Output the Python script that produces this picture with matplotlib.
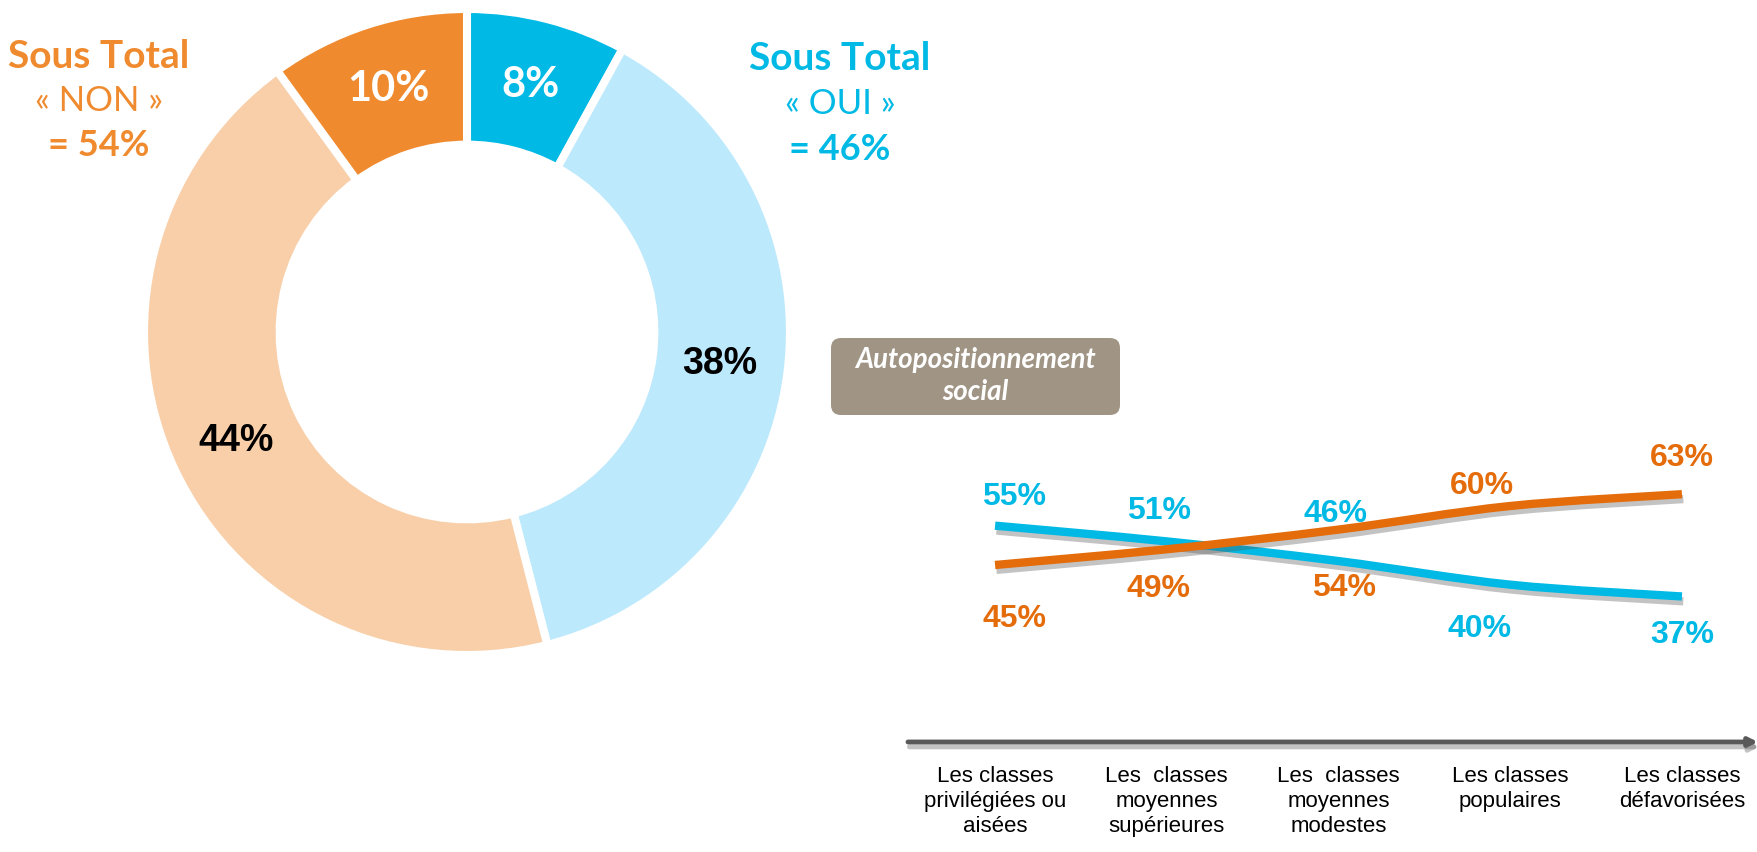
import numpy as np
import matplotlib
matplotlib.use('Agg')
import matplotlib.pyplot as plt
import matplotlib.patheffects as pe
from matplotlib.patches import FancyBboxPatch, PathPatch
from matplotlib.path import Path

# donut : part of "oui" / "non" answers (clockwise from the top)
parts = [8, 38, 44, 10]
part_labels = ['8%', '38%', '44%', '10%']
part_colors = ['#00B9E4', '#BDE9FC', '#F8CFA9', '#F08A2E']
part_text_colors = ['white', 'black', 'black', 'white']
total_oui = 46
total_non = 54

# line chart : self-positioning
classes = ['Les classes\nprivilégiées ou\naisées',
           'Les  classes\nmoyennes\nsupérieures',
           'Les  classes\nmoyennes\nmodestes',
           'Les classes\npopulaires',
           'Les classes\ndéfavorisées']
oui = [55, 51, 46, 40, 37]
non = [45, 49, 54, 60, 63]

# where the value labels sit, in pixels from their point
oui_label_offsets = [(19, 29), (-8, 30), (-3, 47), (-31, -44), (0, -39)]
non_label_offsets = [(19, -54), (-8, -40), (6, -58), (-28, 20), (0, 36)]

BLUE = '#00B9E4'
ORANGE = '#F08A2E'
LINE_ORANGE = '#E46C0A'

W, H = 1758, 852
fig = plt.figure(figsize=(W / 100, H / 100), dpi=100)
fig.patch.set_facecolor('white')


def px_axes(x0, y0, x1, y1):
    # box given in pixels, origin top-left
    return fig.add_axes([x0 / W, 1 - y1 / H, (x1 - x0) / W, (y1 - y0) / H])


def px_text(x, y, s, **kw):
    fig.text(x / W, 1 - y / H, s, ha='center', va='center', **kw)


# ---- donut ----
cx, cy, r_px, half = 467, 332, 323, 330
ax = px_axes(cx - half, cy - half, cx + half, cy + half)
wedges, _ = ax.pie(parts, colors=part_colors, startangle=90, counterclock=False,
                   radius=1, wedgeprops=dict(width=0.42, edgecolor='white', linewidth=5.8))
lim = half / r_px
ax.set_xlim(-lim, lim)
ax.set_ylim(-lim, lim)
ax.axis('off')

start = 90
for val, lab, col in zip(parts, part_labels, part_text_colors):
    mid = np.deg2rad(start - val * 3.6 / 2)
    if col == 'white':
        kw = dict(fontsize=30, family='Lato')
    else:
        kw = dict(fontsize=27, family='Liberation Sans')
    ax.text(0.79 * np.cos(mid), 0.79 * np.sin(mid), lab, ha='center', va='center',
            color=col, fontweight='bold', **kw)
    start -= val * 3.6

px_text(99, 56, 'Sous Total', color=ORANGE, fontsize=28, fontweight='bold', family='Lato')
px_text(99, 101, '« NON »', color=ORANGE, fontsize=25, fontweight='normal', family='Lato')
px_text(99, 146, f'= {total_non}%', color=ORANGE, fontsize=26, fontweight='bold', family='Lato')

px_text(840, 58, 'Sous Total', color=BLUE, fontsize=28, fontweight='bold', family='Lato')
px_text(840, 104, '« OUI »', color=BLUE, fontsize=25, fontweight='normal', family='Lato')
px_text(840, 150, f'= {total_oui}%', color=BLUE, fontsize=26, fontweight='bold', family='Lato')

# ---- badge ----
badge = FancyBboxPatch((831 / 100, (H - 415) / 100), 289 / 100, 77 / 100,
                       boxstyle='round,pad=0,rounding_size=0.1',
                       transform=fig.dpi_scale_trans, fc='#A09585', ec='none')
fig.add_artist(badge)
px_text(975, 376, 'Autopositionnement\nsocial', color='white', fontsize=20,
        fontweight='bold', style='italic', family='Lato', linespacing=1.3)

# ---- line chart ----
lx = px_axes(908, 447, 1758, 742)
lx.set_xlim(-0.507, 4.443)
lx.set_ylim(0, 75)
for s in lx.spines.values():
    s.set_visible(False)
lx.set_yticks([])
lx.set_xticks(range(len(classes)))
lx.set_xticklabels(classes, fontsize=16, linespacing=1.25, family='Liberation Sans')
lx.tick_params(axis='x', length=0, pad=17)
lx.patch.set_alpha(0)


def smooth(xs, ys, t=1 / 6):
    pts = np.column_stack([xs, ys]).astype(float)
    n = len(pts)
    verts, codes = [pts[0]], [Path.MOVETO]
    for i in range(n - 1):
        p0 = pts[i - 1] if i > 0 else pts[i]
        p1, p2 = pts[i], pts[i + 1]
        p3 = pts[i + 2] if i + 2 < n else pts[i + 1]
        verts += [p1 + (p2 - p0) * t, p2 - (p3 - p1) * t, p2]
        codes += [Path.CURVE4] * 3
    return Path(verts, codes)


shadow = [pe.SimpleLineShadow(offset=(1, -3.5), shadow_color='#555555', alpha=0.35),
          pe.Normal()]
xs = np.arange(len(classes))
series = [(oui, oui_label_offsets, BLUE), (non, non_label_offsets, LINE_ORANGE)]
for vals, offs, col in series:
    lx.add_patch(PathPatch(smooth(xs, vals), fill=False, edgecolor=col, lw=6,
                           capstyle='butt', path_effects=shadow))
    for i, v in enumerate(vals):
        lx.annotate(f'{v}%', (i, v), xytext=offs[i], textcoords='offset pixels',
                    ha='center', va='center', color=col, fontsize=23, fontweight='bold',
                    family='Liberation Sans', annotation_clip=False)

# axis arrow
lx.annotate('', xy=(1, 0), xytext=(0, 0), xycoords='axes fraction',
            arrowprops=dict(arrowstyle='-|>,head_length=0.5,head_width=0.25',
                            color='#595959', lw=3.5, shrinkA=0, shrinkB=0,
                            path_effects=shadow),
            annotation_clip=False)

fig.savefig('out.png', dpi=100, facecolor='white')
